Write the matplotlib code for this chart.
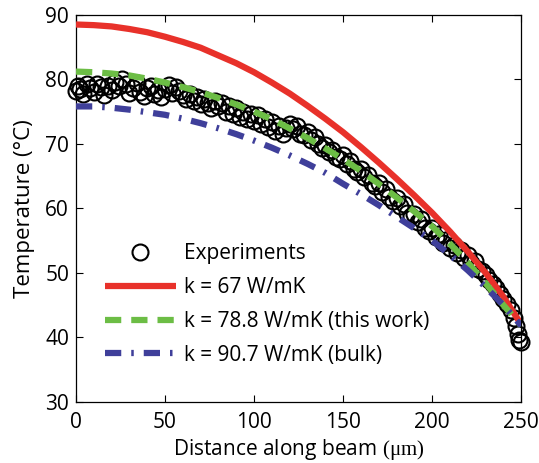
import matplotlib
matplotlib.use("Agg")
import matplotlib.pyplot as plt

plt.rcParams['font.family'] = ['Open Sans', 'DejaVu Sans']
plt.rcParams['mathtext.fontset'] = 'custom'
plt.rcParams['mathtext.rm'] = 'Liberation Serif'
plt.rcParams['mathtext.it'] = 'Liberation Serif:italic'

# Model curves (distance in um, temperature in C)
x_model = [0, 10, 20, 30, 40, 50, 60, 70, 80, 90, 100, 110, 120, 130, 140,
           150, 160, 170, 180, 190, 200, 210, 220, 230, 240, 250]
t_k67 = [88.5, 88.4, 88.2, 87.8, 87.3, 86.6, 85.8, 84.9, 83.7, 82.5, 81.1,
         79.5, 77.8, 75.9, 73.9, 71.8, 69.5, 67.1, 64.6, 62.0, 59.3, 56.4,
         53.3, 50.0, 46.3, 42.0]
t_k788 = [81.2, 81.1, 80.9, 80.6, 80.1, 79.5, 78.8, 78.0, 77.1, 76.1, 75.0,
          73.8, 72.4, 70.9, 69.3, 67.6, 65.8, 63.8, 61.7, 59.5, 57.2, 54.5,
          51.6, 48.4, 45.0, 41.8]
t_k907 = [75.8, 75.8, 75.6, 75.3, 74.9, 74.5, 73.9, 73.2, 72.4, 71.5, 70.5,
          69.4, 68.2, 66.9, 65.5, 63.8, 62.2, 60.5, 58.7, 56.9, 55.0, 52.8,
          50.4, 47.8, 45.0, 41.8]

# Experimental points
x_exp = [0, 1, 2, 4, 6, 8, 10, 12, 14, 16, 18, 20, 22, 24, 26, 28, 30, 32, 34,
         36, 38, 40, 42, 44, 46, 48, 50, 52, 54, 56, 58, 60, 62, 64, 66, 68,
         70, 72, 74, 76, 78, 80, 82, 84, 86, 88, 90, 92, 94, 96, 98, 100, 102,
         104, 106, 108, 110, 112, 114, 116, 118, 120, 122, 124, 126, 128, 130,
         132, 134, 136, 138, 140, 142, 144, 146, 148, 150, 152, 154, 156, 158,
         160, 162, 164, 166, 168, 170, 172, 174, 176, 178, 180, 182, 184, 186,
         188, 190, 192, 194, 196, 198, 200, 202, 204, 206, 208, 210, 212, 214,
         216, 218, 220, 222, 224, 226, 228, 230, 232, 234, 236, 238, 240, 242,
         244, 246, 247, 248, 249, 250]
t_exp = [78.2, 79.0, 78.5, 77.8, 79.2, 78.6, 78.0, 79.3, 78.8, 77.6, 79.0,
         78.4, 79.6, 78.9, 80.0, 79.2, 77.9, 78.7, 79.4, 78.1, 77.4, 78.6,
         79.0, 77.8, 78.3, 77.2, 78.5, 79.1, 77.9, 78.8, 78.2, 77.6, 77.0,
         77.8, 76.6, 77.3, 76.1, 77.0, 76.4, 75.6, 76.7, 75.9, 76.3, 75.0,
         75.8, 74.7, 75.5, 74.2, 75.0, 73.8, 74.6, 73.5, 74.4, 73.0, 73.9,
         72.6, 73.4, 72.0, 72.8, 71.5, 72.5, 73.0, 72.3, 72.8, 71.6, 71.4,
         71.8, 70.6, 71.0, 70.0, 69.4, 69.8, 68.7, 69.1, 68.0, 67.6, 68.2,
         66.9, 67.3, 66.1, 65.7, 66.1, 64.8, 65.2, 63.9, 63.5, 64.0, 62.6,
         63.0, 61.7, 61.2, 61.6, 60.3, 60.6, 59.3, 58.8, 59.2, 57.9, 58.3,
         57.0, 56.5, 57.0, 55.6, 56.0, 54.7, 55.1, 53.8, 54.3, 53.1, 53.5,
         52.3, 52.8, 51.5, 51.9, 50.6, 50.3, 49.6, 48.9, 48.3, 47.6, 46.8,
         45.9, 45.1, 44.2, 43.0, 41.8, 40.5, 39.6, 39.3]

x_ticks = [0, 50, 100, 150, 200, 250]
y_ticks = [30, 40, 50, 60, 70, 80, 90]

fig = plt.figure(figsize=(5.39, 4.63), dpi=100)
ax = fig.add_axes([0.141, 0.132, 0.826, 0.836])

ax.plot(x_exp, t_exp, linestyle='none', marker='o', markersize=11.5,
        markerfacecolor='none', markeredgecolor='black', markeredgewidth=1.5,
        label='Experiments', zorder=2, clip_on=False)
ax.plot(x_model, t_k67, color='#e8312a', linewidth=4.5, solid_capstyle='butt',
        label='k = 67 W/mK', zorder=3)
ax.plot(x_model, t_k788, color='#6cbd45', linewidth=4.5, dashes=(2.6, 1.6),
        label='k = 78.8 W/mK (this work)', zorder=4)
ax.plot(x_model, t_k907, color='#3f3f9a', linewidth=4.5,
        dashes=(2.6, 1.6, 0.4, 1.6),
        label='k = 90.7 W/mK (bulk)', zorder=4)

ax.set_xlim(0, 250)
ax.set_ylim(30, 90)
ax.set_xticks(x_ticks)
ax.set_yticks(y_ticks)
ax.tick_params(direction='in', top=True, right=True, labelsize=15, length=5,
               width=0.8, pad=7)
ax.tick_params(axis='y', pad=5)
for s in ax.spines.values():
    s.set_linewidth(0.9)

ax.set_xlabel(r'Distance along beam $\mathrm{(\mu m)}$', fontsize=15, labelpad=3)
ax.set_ylabel('Temperature (°C)', fontsize=16, labelpad=7)

leg = ax.legend(loc='lower left', bbox_to_anchor=(0.022, 0.045), frameon=False,
                fontsize=15, handlelength=3.45, labelspacing=0.62,
                handletextpad=0.35)

fig.savefig('out.png', dpi=100)
